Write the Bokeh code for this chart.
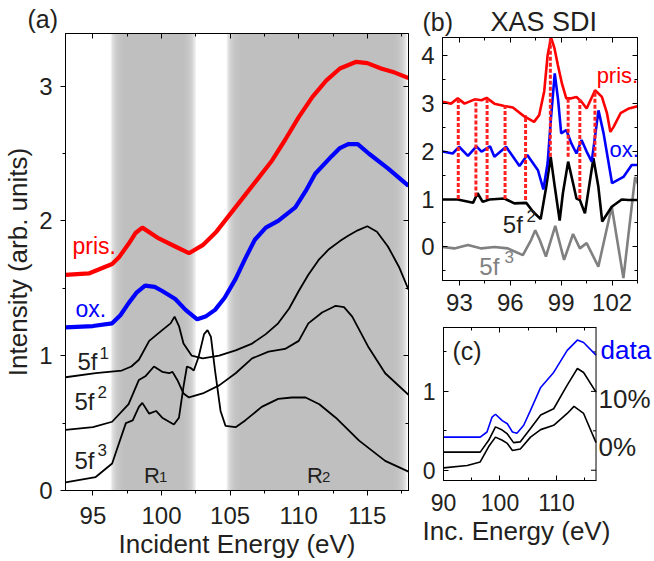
from bokeh.plotting import figure
from bokeh.models import (Label, LinearAxis, SingleIntervalTicker, Range1d, CustomJSTickFormatter,
                          Span, Title)
from bokeh.layouts import row, column
from bokeh.embed import file_html
from bokeh.resources import INLINE

FONT = "Liberation Sans"
TXT = "#231f20"
GRAY_BAND = "#bfbfbf"
LIFT = 7  # px: compensates the renderer's baseline placement of labels

# ---------------- panel (a) data ----------------
a_e_pris = [93, 94.7, 96.4, 96.9, 97.6, 98.1, 98.6, 99.8, 101.0, 102.0, 103.0, 104.0, 105.0, 106.0,
            107.0, 108.0, 109.0, 110.0, 111.0, 112.0, 113.0, 114.2, 115.0, 116.0, 117.0, 118.0]
a_i_pris = [1.60, 1.61, 1.68, 1.73, 1.83, 1.91, 1.95, 1.87, 1.81, 1.76, 1.82, 1.92, 2.05, 2.18,
            2.31, 2.44, 2.60, 2.77, 2.92, 3.04, 3.13, 3.18, 3.17, 3.13, 3.10, 3.06]

a_e_ox = [93, 95, 96.4, 97.0, 97.6, 98.2, 98.8, 99.5, 100.05, 101.0, 101.75, 102.6, 103.2, 103.9,
          104.6, 105.4, 106.1, 106.8, 107.6, 108.5, 109.75, 110.5, 111.2, 112.4, 113.0, 113.6,
          114.3, 115.1, 116.5, 118]
a_i_ox = [1.21, 1.22, 1.24, 1.30, 1.39, 1.47, 1.52, 1.51, 1.48, 1.42, 1.34, 1.27, 1.29, 1.34,
          1.43, 1.57, 1.72, 1.86, 1.95, 2.00, 2.10, 2.22, 2.35, 2.48, 2.54, 2.57,
          2.57, 2.50, 2.39, 2.26]

a_e_f1 = [93, 95.2, 97.1, 97.8, 98.35, 99.1, 100.05, 100.66, 100.95, 101.27, 101.6, 102.2, 103.0,
          104.2, 105.4, 106.6, 107.6, 108.5, 109.3, 110.0, 110.7, 111.45, 112.2, 113.0, 113.6,
          114.3, 115.0, 115.7, 116.5, 117.3, 118]
a_i_f1 = [0.84, 0.87, 0.89, 0.92, 0.97, 1.11, 1.19, 1.24, 1.29, 1.22, 1.09, 1.00, 0.98,
          1.00, 1.04, 1.09, 1.16, 1.24, 1.35, 1.48, 1.60, 1.71, 1.79, 1.85, 1.89,
          1.93, 1.96, 1.92, 1.81, 1.66, 1.49]

a_e_f2 = [93, 95, 96.4, 97.6, 98.35, 98.85, 99.45, 100.05, 100.55, 100.8, 101.15, 101.6, 102.0,
          103.0, 104.2, 105.4, 106.6, 107.8, 109.0, 110.0, 110.7, 111.7, 112.7, 113.3, 113.9,
          115.1, 116.3, 118]
a_i_f2 = [0.45, 0.47, 0.51, 0.64, 0.82, 0.85, 0.92, 0.88, 0.87, 0.88, 0.82, 0.72, 0.69,
          0.72, 0.78, 0.87, 0.98, 1.03, 1.05, 1.11, 1.24, 1.32, 1.37, 1.36, 1.29,
          1.06, 0.87, 0.71]

a_e_f3 = [93, 95.2, 96.4, 96.9, 97.4, 97.9, 98.35, 98.6, 99.1, 99.6, 100.05, 100.55, 100.9,
          101.27, 101.6, 101.85, 102.1, 102.35, 102.7, 103.1, 103.35, 103.6, 103.9, 104.3,
          104.66, 105.4, 106.1, 107.3, 108.5, 109.5, 110.5, 111.5, 112.7, 114.4, 116.3, 118]
a_i_f3 = [0.06, 0.10, 0.20, 0.35, 0.50, 0.52, 0.62, 0.65, 0.57, 0.59, 0.54, 0.51, 0.49,
          0.54, 0.77, 0.92, 0.91, 0.89, 0.99, 1.16, 1.19, 1.14, 0.89, 0.59,
          0.48, 0.47, 0.52, 0.62, 0.68, 0.69, 0.69, 0.64, 0.54, 0.37, 0.22, 0.14]

# shaded regions R1, R2 (eV)
band_lo = [96.75, 105.2]
band_hi = [102.05, 117.45]

# ---------------- panel (b) data ----------------
b_e_pris = [92.0, 92.5, 92.9, 93.3, 93.9, 94.3, 94.6, 95.06, 95.65, 96.15, 96.8, 97.4, 97.7, 98.0,
            98.2, 98.4, 98.6, 98.8, 99.05, 99.3, 99.6, 99.9, 100.2, 100.5, 101.0, 101.4, 101.7,
            101.9, 102.1, 102.5, 103.0, 103.55]
b_i_pris = [3.03, 2.99, 3.10, 2.99, 3.08, 3.06, 3.11, 2.99, 2.94, 2.91, 2.73, 2.61, 2.75, 3.25,
            4.00, 4.37, 4.15, 3.80, 3.40, 3.10, 3.10, 3.13, 3.03, 2.89, 3.27, 3.13, 2.79,
            2.40, 2.51, 2.79, 2.89, 2.94]

b_e_ox = [92.0, 92.6, 92.98, 93.5, 94.0, 94.3, 94.8, 95.06, 95.75, 96.54, 97.0, 97.63, 97.95, 98.2,
          98.4, 98.62, 98.82, 99.0, 99.3, 99.6, 99.9, 100.2, 100.5, 100.8, 101.2, 101.5, 102.0,
          102.67, 103.16, 103.55]
b_i_ox = [1.99, 1.95, 2.09, 1.90, 2.10, 1.99, 2.10, 1.88, 2.09, 1.69, 1.92, 1.60, 1.20, 1.75,
          2.70, 3.62, 3.06, 2.37, 2.44, 2.16, 1.95, 2.23, 1.99, 1.78, 2.85, 2.37, 1.33,
          1.46, 1.71, 1.71]

b_e_f2 = [92.0, 92.9, 93.8, 94.07, 94.37, 94.76, 95.65, 96.24, 96.94, 97.33, 97.79, 98.12, 98.38,
          98.62, 98.91, 99.1, 99.41, 99.7, 99.9, 100.1, 100.4, 100.9, 101.19, 101.42, 101.98,
          102.57, 102.97, 103.55]
b_i_f2 = [0.99, 0.99, 0.92, 1.12, 0.94, 0.99, 1.01, 0.91, 0.92, 0.74, 0.58, 1.26, 1.88,
          1.26, 0.55, 1.12, 1.78, 1.33, 1.01, 0.98, 0.70, 1.85, 1.26, 0.53, 0.84,
          0.99, 0.98, 0.98]

b_e_f3 = [92.0, 92.7, 93.5, 94.3, 95.06, 95.85, 96.74, 97.23, 97.47, 97.73, 98.1, 98.65, 99.17,
          99.7, 100.1, 100.5, 101.19, 101.98, 102.67, 103.36, 103.55]
b_i_f3 = [0.0, -0.03, 0.04, -0.03, 0.0, -0.03, -0.17, 0.15, 0.35, 0.15, -0.20, 0.44, -0.27,
          0.27, -0.03, 0.08, -0.41, 0.84, -0.65, 1.46, 1.30]

b_dash_e = [92.93, 93.97, 94.63, 95.69, 96.9, 98.36, 99.41, 100.1, 100.99]
b_dash_top = [3.10, 3.08, 3.11, 2.95, 2.75, 4.37, 3.10, 3.10, 3.27]
b_dash_bot = [1.0, 1.05, 1.0, 1.0, 0.98, 1.88, 1.88, 1.0, 1.88]

# ---------------- panel (c) data ----------------
c_e_data = [90, 96.5, 97.7, 98.6, 99.2, 100.4, 101.3, 102.2, 103.0, 104.2, 105.4, 107.2, 109.5,
            111.9, 113.7, 114.8, 117]
c_i_data = [0.42, 0.42, 0.485, 0.675, 0.71, 0.63, 0.59, 0.485, 0.47, 0.57, 0.76, 1.05, 1.24,
            1.52, 1.65, 1.62, 1.46]
c_e_10 = [90, 96.5, 98.0, 99.2, 100.4, 101.3, 102.4, 103.6, 105.4, 107.2, 109.5, 111.9, 113.7,
          114.8, 117]
c_i_10 = [0.23, 0.23, 0.38, 0.55, 0.51, 0.46, 0.35, 0.36, 0.53, 0.70, 0.78, 1.08, 1.29, 1.24, 0.99]
c_e_0 = [90, 94.2, 96.5, 98.0, 99.2, 100.4, 101.3, 102.2, 103.6, 105.4, 107.2, 109.5, 111.9,
         113.1, 114.8, 117]
c_i_0 = [0.03, 0.06, 0.105, 0.30, 0.42, 0.38, 0.34, 0.25, 0.27, 0.42, 0.515, 0.57, 0.72,
         0.81, 0.72, 0.35]
c_xmax = 117          # right edge of panel (c) axes box
c_yticks = [0, 0.5, 1.0, 1.5]


def base_style(p):
    p.xgrid.visible = False
    p.ygrid.visible = False
    p.background_fill_color = "white"
    p.border_fill_color = "white"


def style_axis(ax, out, st, lab_size, title_size="26px"):
    ax.axis_line_color = "black"
    ax.major_tick_line_color = "black"
    ax.minor_tick_line_color = "black"
    ax.major_tick_out = 5 if out else 0
    ax.major_tick_in = 0 if out else 5
    ax.minor_tick_out = 3 if out else 0
    ax.minor_tick_in = 0 if out else 3
    ax.major_label_standoff = st
    ax.major_label_text_font = FONT
    ax.major_label_text_font_size = lab_size
    ax.major_label_text_color = TXT
    ax.axis_label_text_font = FONT
    ax.axis_label_text_font_style = "normal"
    ax.axis_label_text_color = TXT
    ax.axis_label_text_font_size = title_size


def mirror_axis(iv, bounds="auto"):
    return LinearAxis(ticker=SingleIntervalTicker(interval=iv, num_minor_ticks=2),
                      formatter=CustomJSTickFormatter(code="return ''"), bounds=bounds,
                      major_label_standoff=0, major_label_text_font_size="0px",
                      major_tick_in=5, major_tick_out=0, minor_tick_in=3, minor_tick_out=0,
                      axis_line_color="black", major_tick_line_color="black",
                      minor_tick_line_color="black")


def add_label(p, x, y, text, size, color=TXT, ppu=1.0):
    p.add_layout(Label(x=x, y=y + LIFT / ppu, text=text, text_font=FONT, text_font_size=size,
                       text_color=color, text_baseline="alphabetic", text_align="left"))


def strip(w, h):
    s = figure(width=w, height=h, x_range=Range1d(0, w), y_range=Range1d(0, h),
               output_backend="svg", toolbar_location=None, frame_align=False,
               x_axis_location=None, y_axis_location=None,
               min_border_left=0, min_border_right=0, min_border_top=0, min_border_bottom=0)
    s.title.visible = False
    s.outline_line_color = None
    base_style(s)
    return s


# ================= panel (a) =================
sa = strip(410, 33)
add_label(sa, 27, 8, "(a)", "25px")

PPU_A = 134.7
pa = figure(width=410, height=528, x_range=Range1d(93, 118), y_range=Range1d(0, 3.39),
            output_backend="svg", toolbar_location=None, frame_align=False,
            min_border_left=63, min_border_right=2, min_border_top=0, min_border_bottom=71)
base_style(pa)
pa.outline_line_color = "black"
xa, ya = pa.below[0], pa.left[0]
xa.ticker = SingleIntervalTicker(interval=5, num_minor_ticks=2)
ya.ticker = SingleIntervalTicker(interval=1, num_minor_ticks=2)
style_axis(xa, True, 11, "24px")
style_axis(ya, True, 8, "24px")
xa.axis_label = "Incident Energy (eV)"
ya.axis_label = "Intensity (arb. units)"
xa.axis_label_standoff = 2
ya.axis_label_standoff = 3
pa.add_layout(mirror_axis(5), "above")
pa.add_layout(mirror_axis(1), "right")

fade = 0.9
nl = 10
for lo, hi in zip(band_lo, band_hi):
    pa.quad(left=[lo + fade / 2], right=[hi - fade / 2], bottom=[0], top=[3.39],
            fill_color=GRAY_BAND, line_color=None)
    ls = [lo - fade / 2 + k * fade / nl for k in range(nl)]
    rs = [hi + fade / 2 - k * fade / nl for k in range(nl)]
    pa.quad(left=ls, right=rs, bottom=[0] * nl, top=[3.39] * nl,
            fill_color=GRAY_BAND, fill_alpha=0.27, line_color=None)

for e, i in ((a_e_f1, a_i_f1), (a_e_f2, a_i_f2), (a_e_f3, a_i_f3)):
    pa.line(e, i, line_color="black", line_width=1.8)
pa.line(a_e_ox, a_i_ox, line_color="#0000ff", line_width=4.2)
pa.line(a_e_pris, a_i_pris, line_color="#ff0000", line_width=4.2)

add_label(pa, 93.51, 1.76, "pris.", "23px", "#ff0000", PPU_A)
add_label(pa, 93.73, 1.295, "ox.", "23px", "#0000ff", PPU_A)
add_label(pa, 93.87, 0.903, "5f", "24px", TXT, PPU_A)
add_label(pa, 95.47, 0.97, "1", "17px", TXT, PPU_A)
add_label(pa, 93.65, 0.607, "5f", "24px", TXT, PPU_A)
add_label(pa, 95.33, 0.675, "2", "17px", TXT, PPU_A)
add_label(pa, 93.65, 0.173, "5f", "24px", TXT, PPU_A)
add_label(pa, 95.33, 0.245, "3", "17px", TXT, PPU_A)
add_label(pa, 98.72, 0.062, "R", "22px", TXT, PPU_A)
add_label(pa, 99.81, 0.045, "1", "15px", TXT, PPU_A)
add_label(pa, 110.6, 0.062, "R", "22px", TXT, PPU_A)
add_label(pa, 111.69, 0.045, "2", "15px", TXT, PPU_A)

# ================= panel (b) =================
sb = strip(244, 37)
add_label(sb, 12, 9, "(b)", "25px")
add_label(sb, 80, 9, "XAS SDI", "27px")

PPU_B = 48.0
pb = figure(width=244, height=283, x_range=Range1d(92, 103.5), y_range=Range1d(-0.7, 4.37),
            output_backend="svg", toolbar_location=None, frame_align=False,
            min_border_left=32, min_border_right=17, min_border_top=0, min_border_bottom=40)
base_style(pb)
pb.outline_line_color = "black"
xb, yb = pb.below[0], pb.left[0]
xb.ticker = SingleIntervalTicker(interval=3, num_minor_ticks=2)
yb.ticker = SingleIntervalTicker(interval=1, num_minor_ticks=2)
style_axis(xb, True, 8, "24px")
style_axis(yb, False, 8, "24px")
pb.add_layout(mirror_axis(3), "above")
pb.add_layout(mirror_axis(1), "right")

pb.line(b_e_f3, b_i_f3, line_color="#808080", line_width=2.6)
pb.line(b_e_f2, b_i_f2, line_color="black", line_width=2.6)
pb.line(b_e_ox, b_i_ox, line_color="#0000ff", line_width=2.6)
pb.line(b_e_pris, b_i_pris, line_color="#ff0000", line_width=2.6)
pb.segment(x0=b_dash_e, y0=b_dash_bot, x1=b_dash_e, y1=b_dash_top,
           line_color="#ff2020", line_width=3, line_dash="4 2")

add_label(pb, 101.09, 3.44, "pris.", "22px", "#ff0000", PPU_B)
add_label(pb, 101.85, 1.88, "ox.", "22px", "#0000ff", PPU_B)
add_label(pb, 95.56, 0.32, "5f", "24px", TXT, PPU_B)
add_label(pb, 96.95, 0.49, "2", "17px", TXT, PPU_B)
add_label(pb, 94.17, -0.55, "5f", "24px", "#808080", PPU_B)
add_label(pb, 95.65, -0.36, "3", "17px", "#808080", PPU_B)

# ================= panel (c) =================
# frame runs to the right page edge so the side labels can sit inside it;
# the visible axes box is closed at c_xmax.
PPU_C = 78.9
pc = figure(width=244, height=241, x_range=Range1d(90, 127.35), y_range=Range1d(-0.13, 1.81),
            output_backend="svg", toolbar_location=None, frame_align=False,
            min_border_left=33, min_border_right=0, min_border_top=7, min_border_bottom=81)
base_style(pc)
pc.title.visible = False
pc.outline_line_color = None
xc, yc = pc.below[0], pc.left[0]
xc.ticker = SingleIntervalTicker(interval=10, num_minor_ticks=2)
yc.ticker = SingleIntervalTicker(interval=1, num_minor_ticks=2)
xc.bounds = (90, c_xmax)
style_axis(xc, False, 13, "23px")
style_axis(yc, False, 8, "23px")
pc.add_layout(Title(text="Inc. Energy (eV)", align="left", offset=-21, standoff=1,
                    text_font=FONT, text_font_size="26px", text_font_style="normal",
                    text_color=TXT), "below")
pc.add_layout(mirror_axis(10, bounds=(90, c_xmax)), "above")
pc.add_layout(Span(location=c_xmax, dimension="height", line_color="black", line_width=1))
tick_len = [0.9 if abs(t - round(t)) < 1e-9 else 0.55 for t in c_yticks]
pc.segment(x0=[c_xmax - L for L in tick_len], y0=c_yticks, x1=[c_xmax] * len(c_yticks),
           y1=c_yticks, line_color="black", line_width=1)

pc.line(c_e_0, c_i_0, line_color="black", line_width=1.6)
pc.line(c_e_10, c_i_10, line_color="black", line_width=1.6)
pc.line(c_e_data, c_i_data, line_color="#0000ff", line_width=1.6)
add_label(pc, 91.6, 1.42, "(c)", "25px", TXT, PPU_C)
add_label(pc, 117.8, 1.43, "data", "26px", "#0000ff", PPU_C)
add_label(pc, 117.45, 0.81, "10%", "26px", TXT, PPU_C)
add_label(pc, 117.45, 0.20, "0%", "26px", TXT, PPU_C)

layout = row(column(sa, pa), column(sb, pb, pc))
open("out.html", "w").write(file_html(layout, INLINE))
